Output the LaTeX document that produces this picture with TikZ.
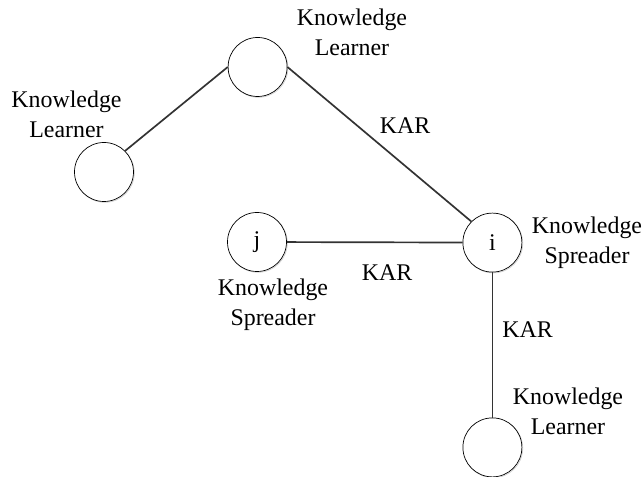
\documentclass[tikz,border=0pt]{standalone}
\usepackage{fontspec}
\setmainfont{Liberation Serif}
\usetikzlibrary{shadows}

\tikzset{
  agent/.style={circle, draw=black, line width=0.5pt, fill=white, minimum size=1.475cm, inner sep=0pt,
    font=\fontsize{17}{21.3}\selectfont,
    drop shadow={shadow xshift=0.6pt, shadow yshift=-0.6pt, fill=none, draw=black!18, opacity=1}},
  lbl/.style={align=center, inner sep=0pt, font=\fontsize{17}{21.3}\selectfont},
  link/.style={draw=black!80, line width=1.2pt}
}

\begin{document}
\begin{tikzpicture}
			%%%%% START %%%%%
			\useasboundingbox (0, 0) rectangle (16.1, 11.925);
			
			\node[agent] (learnerA) at (6.44, 10.25) {};
			\node[agent] (learnerB) at (2.6, 7.625) {};
			\node[agent] (nodeJ) at (6.425, 5.875) {j};
			\node[agent] (nodeI) at (12.31, 5.86) {i};
			\node[agent] (learnerC) at (12.31, 0.74) {};
			
			\draw[link] (learnerA.west) -- (learnerB.north east);
			\draw[link] (learnerA.east) -- (nodeI.north west);
			\draw[link] (nodeJ) -- (nodeI);
			\draw[link] (nodeI) -- (learnerC);
			
			\node[lbl] (txtA) at (8.8, 11.125) {Knowledge\\Learner};
			\node[lbl] (txtB) at (1.6625, 9.075) {Knowledge\\Learner};
			\node[lbl] (txtJ) at (6.825, 4.3) {Knowledge\\Spreader};
			\node[lbl] (txtI) at (14.675, 5.8625) {Knowledge\\Spreader};
			\node[lbl] (txtC) at (14.2, 1.65) {Knowledge\\Learner};
			
			\node[lbl] (karA) at (10.125, 8.775) {KAR};
			\node[lbl] (karB) at (9.675, 5.1) {KAR};
			\node[lbl] (karC) at (13.19, 3.675) {KAR};
			%%%%% END %%%%%
\end{tikzpicture}
\end{document}
